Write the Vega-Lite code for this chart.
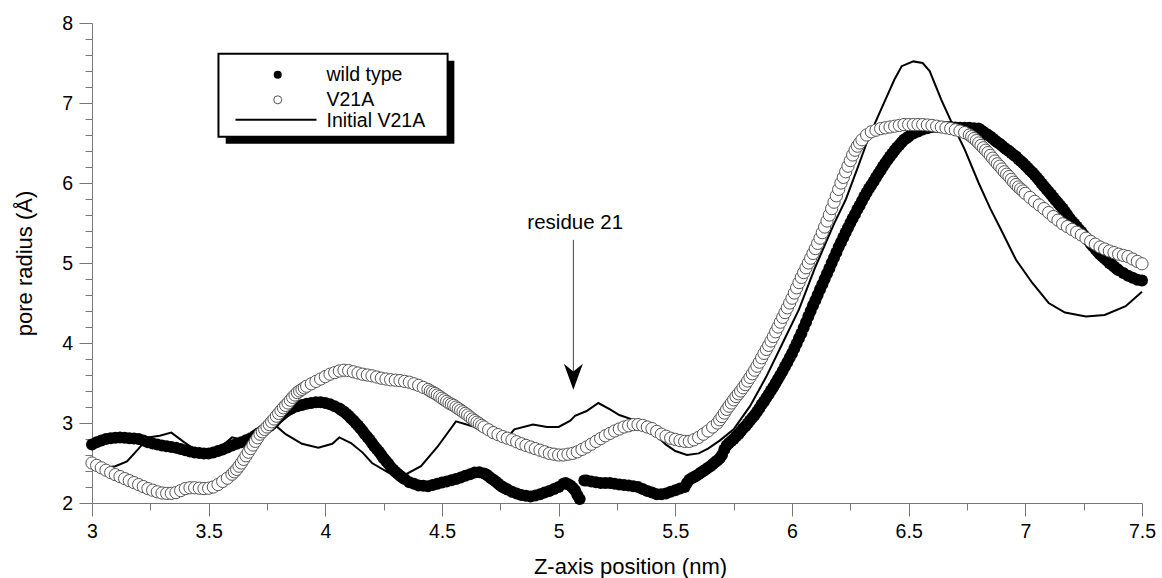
{
  "$schema": "https://vega.github.io/schema/vega-lite/v6.json",
  "width": 1050,
  "height": 480,
  "autosize": {"type": "none"},
  "padding": {"left": 92, "top": 23, "right": 20, "bottom": 75},
  "background": "white",
  "config": {
    "view": {"stroke": null},
    "font": "Liberation Sans",
    "axis": {
      "grid": false,
      "domainColor": "#777777",
      "tickColor": "#777777",
      "labelColor": "black",
      "labelFont": "Liberation Sans",
      "labelFontSize": 19.5,
      "titleFont": "Liberation Sans",
      "titleFontSize": 22,
      "titleFontWeight": "normal",
      "titleColor": "black"
    }
  },
  "datasets": {
    "initial": [
      {"z":3.00,"r":2.45},{"z":3.05,"r":2.44},{"z":3.10,"r":2.46},{"z":3.15,"r":2.52},{"z":3.20,"r":2.68},
      {"z":3.24,"r":2.82},{"z":3.29,"r":2.84},{"z":3.34,"r":2.88},{"z":3.39,"r":2.77},{"z":3.43,"r":2.69},
      {"z":3.47,"r":2.64},{"z":3.52,"r":2.64},{"z":3.56,"r":2.72},{"z":3.60,"r":2.82},{"z":3.63,"r":2.80},
      {"z":3.68,"r":2.84},{"z":3.74,"r":2.92},{"z":3.79,"r":2.96},{"z":3.83,"r":2.86},{"z":3.90,"r":2.74},
      {"z":3.97,"r":2.69},{"z":4.03,"r":2.74},{"z":4.06,"r":2.82},{"z":4.11,"r":2.75},{"z":4.16,"r":2.63},
      {"z":4.20,"r":2.50},{"z":4.27,"r":2.38},{"z":4.34,"r":2.35},{"z":4.41,"r":2.46},{"z":4.48,"r":2.70},
      {"z":4.56,"r":3.02},{"z":4.63,"r":2.96},{"z":4.70,"r":2.87},{"z":4.79,"r":2.85},{"z":4.81,"r":2.92},
      {"z":4.89,"r":2.98},{"z":4.95,"r":2.95},{"z":5.00,"r":2.95},{"z":5.05,"r":3.03},{"z":5.07,"r":3.09},
      {"z":5.12,"r":3.15},{"z":5.17,"r":3.25},{"z":5.22,"r":3.17},{"z":5.26,"r":3.10},{"z":5.32,"r":3.04},
      {"z":5.39,"r":2.92},{"z":5.46,"r":2.73},{"z":5.50,"r":2.65},{"z":5.55,"r":2.60},{"z":5.60,"r":2.62},
      {"z":5.64,"r":2.68},{"z":5.69,"r":2.78},{"z":5.75,"r":2.92},{"z":5.82,"r":3.21},{"z":5.89,"r":3.58},
      {"z":5.96,"r":4.00},{"z":6.03,"r":4.42},{"z":6.10,"r":4.95},{"z":6.14,"r":5.22},{"z":6.18,"r":5.49},
      {"z":6.23,"r":5.79},{"z":6.28,"r":6.18},{"z":6.32,"r":6.50},{"z":6.35,"r":6.71},{"z":6.40,"r":7.04},
      {"z":6.44,"r":7.30},{"z":6.47,"r":7.46},{"z":6.52,"r":7.52},{"z":6.56,"r":7.50},{"z":6.59,"r":7.40},
      {"z":6.64,"r":7.04},{"z":6.69,"r":6.72},{"z":6.74,"r":6.42},{"z":6.80,"r":6.00},{"z":6.85,"r":5.68},
      {"z":6.89,"r":5.45},{"z":6.96,"r":5.04},{"z":7.03,"r":4.75},{"z":7.10,"r":4.50},{"z":7.17,"r":4.38},
      {"z":7.26,"r":4.33},{"z":7.34,"r":4.35},{"z":7.43,"r":4.46},{"z":7.50,"r":4.64}
    ],
    "wt": [
      {"z":3.00,"r":2.73},{"z":3.02,"r":2.76},{"z":3.04,"r":2.78},{"z":3.06,"r":2.80},{"z":3.08,"r":2.81},
      {"z":3.10,"r":2.815},{"z":3.12,"r":2.82},{"z":3.14,"r":2.815},{"z":3.16,"r":2.81},{"z":3.18,"r":2.805},
      {"z":3.20,"r":2.80},{"z":3.22,"r":2.78},{"z":3.24,"r":2.76},{"z":3.26,"r":2.745},{"z":3.28,"r":2.73},
      {"z":3.30,"r":2.72},{"z":3.32,"r":2.71},{"z":3.34,"r":2.70},{"z":3.36,"r":2.69},{"z":3.38,"r":2.675},
      {"z":3.40,"r":2.66},{"z":3.42,"r":2.645},{"z":3.44,"r":2.63},{"z":3.46,"r":2.625},{"z":3.48,"r":2.62},
      {"z":3.50,"r":2.62},{"z":3.52,"r":2.63},{"z":3.54,"r":2.65},{"z":3.56,"r":2.67},{"z":3.58,"r":2.695},
      {"z":3.60,"r":2.72},{"z":3.62,"r":2.74},{"z":3.64,"r":2.76},{"z":3.66,"r":2.785},{"z":3.68,"r":2.81},
      {"z":3.70,"r":2.845},{"z":3.72,"r":2.88},{"z":3.74,"r":2.92},{"z":3.76,"r":2.96},{"z":3.78,"r":3.01},
      {"z":3.80,"r":3.07},{"z":3.82,"r":3.12},{"z":3.84,"r":3.16},{"z":3.86,"r":3.19},{"z":3.88,"r":3.21},
      {"z":3.90,"r":3.225},{"z":3.92,"r":3.24},{"z":3.94,"r":3.25},{"z":3.96,"r":3.26},{"z":3.98,"r":3.26},
      {"z":4.00,"r":3.25},{"z":4.02,"r":3.235},{"z":4.04,"r":3.21},{"z":4.06,"r":3.18},{"z":4.08,"r":3.14},
      {"z":4.10,"r":3.09},{"z":4.12,"r":3.03},{"z":4.14,"r":2.97},{"z":4.16,"r":2.90},{"z":4.18,"r":2.825},
      {"z":4.20,"r":2.75},{"z":4.22,"r":2.675},{"z":4.24,"r":2.60},{"z":4.26,"r":2.525},{"z":4.28,"r":2.45},
      {"z":4.30,"r":2.39},{"z":4.32,"r":2.34},{"z":4.34,"r":2.30},{"z":4.36,"r":2.26},{"z":4.38,"r":2.24},
      {"z":4.40,"r":2.22},{"z":4.42,"r":2.215},{"z":4.44,"r":2.21},{"z":4.46,"r":2.225},{"z":4.48,"r":2.24},
      {"z":4.50,"r":2.255},{"z":4.52,"r":2.27},{"z":4.54,"r":2.285},{"z":4.56,"r":2.30},{"z":4.58,"r":2.32},
      {"z":4.60,"r":2.34},{"z":4.62,"r":2.36},{"z":4.64,"r":2.38},{"z":4.66,"r":2.385},{"z":4.68,"r":2.37},
      {"z":4.70,"r":2.335},{"z":4.72,"r":2.29},{"z":4.74,"r":2.245},{"z":4.76,"r":2.20},{"z":4.78,"r":2.17},
      {"z":4.80,"r":2.14},{"z":4.82,"r":2.12},{"z":4.84,"r":2.10},{"z":4.86,"r":2.09},{"z":4.88,"r":2.08},
      {"z":4.90,"r":2.095},{"z":4.92,"r":2.11},{"z":4.94,"r":2.13},{"z":4.96,"r":2.15},{"z":4.98,"r":2.175},
      {"z":5.00,"r":2.20},{"z":5.02,"r":2.24},{"z":5.03,"r":2.25},{"z":5.04,"r":2.235},{"z":5.05,"r":2.22},
      {"z":5.06,"r":2.19},{"z":5.07,"r":2.16},{"z":5.08,"r":2.10},{"z":5.09,"r":2.05},{"z":5.11,"r":2.28},
      {"z":5.12,"r":2.28},{"z":5.14,"r":2.27},{"z":5.16,"r":2.26},{"z":5.18,"r":2.25},{"z":5.20,"r":2.25},
      {"z":5.22,"r":2.25},{"z":5.24,"r":2.24},{"z":5.26,"r":2.23},{"z":5.28,"r":2.225},{"z":5.30,"r":2.22},
      {"z":5.32,"r":2.21},{"z":5.34,"r":2.20},{"z":5.36,"r":2.175},{"z":5.38,"r":2.15},{"z":5.40,"r":2.13},
      {"z":5.42,"r":2.11},{"z":5.44,"r":2.11},{"z":5.46,"r":2.12},{"z":5.48,"r":2.14},{"z":5.50,"r":2.16},
      {"z":5.52,"r":2.18},{"z":5.54,"r":2.20},{"z":5.55,"r":2.25},{"z":5.56,"r":2.29},{"z":5.58,"r":2.325},
      {"z":5.60,"r":2.36},{"z":5.62,"r":2.40},{"z":5.64,"r":2.44},{"z":5.66,"r":2.485},{"z":5.68,"r":2.53},
      {"z":5.70,"r":2.60},{"z":5.71,"r":2.67},{"z":5.72,"r":2.72},{"z":5.74,"r":2.775},{"z":5.76,"r":2.83},
      {"z":5.78,"r":2.895},{"z":5.80,"r":2.96},{"z":5.82,"r":3.03},{"z":5.84,"r":3.10},{"z":5.86,"r":3.185},
      {"z":5.88,"r":3.27},{"z":5.90,"r":3.36},{"z":5.92,"r":3.45},{"z":5.94,"r":3.55},{"z":5.96,"r":3.65},
      {"z":5.98,"r":3.76},{"z":6.00,"r":3.87},{"z":6.02,"r":3.995},{"z":6.04,"r":4.12},{"z":6.06,"r":4.26},
      {"z":6.08,"r":4.40},{"z":6.10,"r":4.535},{"z":6.12,"r":4.67},{"z":6.14,"r":4.80},{"z":6.16,"r":4.93},
      {"z":6.18,"r":5.065},{"z":6.20,"r":5.20},{"z":6.22,"r":5.32},{"z":6.24,"r":5.44},{"z":6.26,"r":5.555},
      {"z":6.28,"r":5.67},{"z":6.30,"r":5.775},{"z":6.32,"r":5.88},{"z":6.34,"r":5.975},{"z":6.36,"r":6.07},
      {"z":6.38,"r":6.16},{"z":6.40,"r":6.25},{"z":6.42,"r":6.33},{"z":6.44,"r":6.41},{"z":6.46,"r":6.475},
      {"z":6.48,"r":6.54},{"z":6.50,"r":6.58},{"z":6.52,"r":6.62},{"z":6.54,"r":6.645},{"z":6.56,"r":6.67},
      {"z":6.58,"r":6.685},{"z":6.60,"r":6.70},{"z":6.62,"r":6.70},{"z":6.64,"r":6.70},{"z":6.66,"r":6.70},
      {"z":6.68,"r":6.70},{"z":6.70,"r":6.695},{"z":6.72,"r":6.69},{"z":6.74,"r":6.69},{"z":6.76,"r":6.69},
      {"z":6.78,"r":6.685},{"z":6.80,"r":6.68},{"z":6.82,"r":6.64},{"z":6.84,"r":6.60},{"z":6.86,"r":6.555},
      {"z":6.88,"r":6.51},{"z":6.90,"r":6.465},{"z":6.92,"r":6.42},{"z":6.94,"r":6.375},{"z":6.96,"r":6.33},
      {"z":6.98,"r":6.275},{"z":7.00,"r":6.22},{"z":7.02,"r":6.16},{"z":7.04,"r":6.10},{"z":7.06,"r":6.03},
      {"z":7.08,"r":5.96},{"z":7.10,"r":5.89},{"z":7.12,"r":5.82},{"z":7.14,"r":5.75},{"z":7.16,"r":5.68},
      {"z":7.18,"r":5.60},{"z":7.20,"r":5.52},{"z":7.22,"r":5.455},{"z":7.24,"r":5.39},{"z":7.26,"r":5.315},
      {"z":7.28,"r":5.24},{"z":7.30,"r":5.175},{"z":7.32,"r":5.11},{"z":7.34,"r":5.055},{"z":7.36,"r":5.00},
      {"z":7.38,"r":4.955},{"z":7.40,"r":4.91},{"z":7.42,"r":4.875},{"z":7.44,"r":4.84},{"z":7.46,"r":4.815},
      {"z":7.48,"r":4.79},{"z":7.50,"r":4.78},
      {"z":3.71,"r":2.862},{"z":3.73,"r":2.90},{"z":3.75,"r":2.94},{"z":3.77,"r":2.985},{"z":3.79,"r":3.04},
      {"z":3.81,"r":3.095},{"z":3.83,"r":3.14},{"z":3.85,"r":3.175},
      {"z":4.07,"r":3.16},{"z":4.09,"r":3.115},{"z":4.11,"r":3.06},{"z":4.13,"r":3.00},{"z":4.15,"r":2.935},
      {"z":4.17,"r":2.86},{"z":4.19,"r":2.79},{"z":4.21,"r":2.71},{"z":4.23,"r":2.64},{"z":4.25,"r":2.56},
      {"z":4.27,"r":2.49},{"z":4.29,"r":2.42},{"z":4.31,"r":2.365},{"z":4.33,"r":2.32},
      {"z":4.69,"r":2.355},{"z":4.71,"r":2.31},{"z":4.73,"r":2.27},{"z":4.75,"r":2.22},{"z":4.77,"r":2.185},
      {"z":5.57,"r":2.31},{"z":5.59,"r":2.34},{"z":5.61,"r":2.38},{"z":5.63,"r":2.42},{"z":5.65,"r":2.46},
      {"z":5.67,"r":2.51},{"z":5.69,"r":2.56},{"z":5.73,"r":2.75},{"z":5.75,"r":2.80},{"z":5.77,"r":2.86},
      {"z":5.79,"r":2.93},{"z":5.81,"r":2.995},{"z":5.83,"r":3.065},{"z":5.85,"r":3.14},{"z":5.87,"r":3.23},
      {"z":5.89,"r":3.315},{"z":5.91,"r":3.405},{"z":5.93,"r":3.50},{"z":5.95,"r":3.60},{"z":5.97,"r":3.705},
      {"z":5.99,"r":3.815},{"z":6.01,"r":3.93},{"z":6.03,"r":4.06},{"z":6.05,"r":4.19},{"z":6.07,"r":4.33},
      {"z":6.09,"r":4.47},{"z":6.11,"r":4.60},{"z":6.13,"r":4.735},{"z":6.15,"r":4.865},{"z":6.17,"r":5.00},
      {"z":6.19,"r":5.13},{"z":6.21,"r":5.26},{"z":6.23,"r":5.38},{"z":6.25,"r":5.50},{"z":6.27,"r":5.61},
      {"z":6.29,"r":5.72},{"z":6.31,"r":5.83},{"z":6.33,"r":5.93},{"z":6.35,"r":6.02},{"z":6.37,"r":6.115},
      {"z":6.39,"r":6.205},{"z":6.41,"r":6.29},{"z":6.43,"r":6.37},{"z":6.45,"r":6.445},{"z":6.47,"r":6.51},
      {"z":6.49,"r":6.56},
      {"z":6.81,"r":6.66},{"z":6.83,"r":6.62},{"z":6.85,"r":6.58},{"z":6.87,"r":6.53},{"z":6.89,"r":6.49},
      {"z":6.91,"r":6.44},{"z":6.93,"r":6.40},{"z":6.95,"r":6.35},{"z":6.97,"r":6.30},{"z":6.99,"r":6.25},
      {"z":7.01,"r":6.19},{"z":7.03,"r":6.13},{"z":7.05,"r":6.065},{"z":7.07,"r":5.995},{"z":7.09,"r":5.925},
      {"z":7.11,"r":5.855},{"z":7.13,"r":5.785},{"z":7.15,"r":5.715},{"z":7.17,"r":5.64},{"z":7.19,"r":5.56},
      {"z":7.21,"r":5.49},{"z":7.23,"r":5.42},{"z":7.25,"r":5.35},{"z":7.27,"r":5.28},{"z":7.29,"r":5.21},
      {"z":7.31,"r":5.14},{"z":7.33,"r":5.08},{"z":7.35,"r":5.03},{"z":7.37,"r":4.98},{"z":7.39,"r":4.93}
    ],
    "v21a": [
      {"z":3.00,"r":2.50},{"z":3.02,"r":2.47},{"z":3.04,"r":2.44},{"z":3.06,"r":2.41},{"z":3.08,"r":2.38},
      {"z":3.10,"r":2.355},{"z":3.12,"r":2.33},{"z":3.14,"r":2.305},{"z":3.16,"r":2.28},{"z":3.18,"r":2.255},
      {"z":3.20,"r":2.23},{"z":3.22,"r":2.205},{"z":3.24,"r":2.18},{"z":3.26,"r":2.16},{"z":3.28,"r":2.14},
      {"z":3.30,"r":2.125},{"z":3.32,"r":2.12},{"z":3.34,"r":2.12},{"z":3.36,"r":2.13},{"z":3.38,"r":2.155},
      {"z":3.40,"r":2.18},{"z":3.42,"r":2.19},{"z":3.44,"r":2.19},{"z":3.46,"r":2.185},{"z":3.48,"r":2.18},
      {"z":3.50,"r":2.185},{"z":3.52,"r":2.20},{"z":3.54,"r":2.23},{"z":3.56,"r":2.27},{"z":3.58,"r":2.31},
      {"z":3.60,"r":2.36},{"z":3.62,"r":2.42},{"z":3.64,"r":2.50},{"z":3.66,"r":2.59},{"z":3.68,"r":2.68},
      {"z":3.70,"r":2.77},{"z":3.72,"r":2.86},{"z":3.74,"r":2.92},{"z":3.76,"r":2.98},{"z":3.78,"r":3.05},
      {"z":3.80,"r":3.12},{"z":3.82,"r":3.19},{"z":3.84,"r":3.25},{"z":3.86,"r":3.32},{"z":3.88,"r":3.38},
      {"z":3.90,"r":3.42},{"z":3.92,"r":3.46},{"z":3.94,"r":3.49},{"z":3.96,"r":3.52},{"z":3.98,"r":3.55},
      {"z":4.00,"r":3.58},{"z":4.02,"r":3.61},{"z":4.04,"r":3.63},{"z":4.06,"r":3.65},{"z":4.08,"r":3.66},
      {"z":4.10,"r":3.655},{"z":4.12,"r":3.64},{"z":4.14,"r":3.625},{"z":4.16,"r":3.61},{"z":4.18,"r":3.60},
      {"z":4.20,"r":3.59},{"z":4.22,"r":3.575},{"z":4.24,"r":3.56},{"z":4.26,"r":3.55},{"z":4.28,"r":3.54},
      {"z":4.30,"r":3.535},{"z":4.32,"r":3.53},{"z":4.34,"r":3.52},{"z":4.36,"r":3.51},{"z":4.38,"r":3.49},
      {"z":4.40,"r":3.47},{"z":4.42,"r":3.445},{"z":4.44,"r":3.42},{"z":4.46,"r":3.385},{"z":4.48,"r":3.35},
      {"z":4.50,"r":3.31},{"z":4.52,"r":3.27},{"z":4.54,"r":3.235},{"z":4.56,"r":3.20},{"z":4.58,"r":3.16},
      {"z":4.60,"r":3.12},{"z":4.62,"r":3.075},{"z":4.64,"r":3.03},{"z":4.66,"r":2.99},{"z":4.68,"r":2.95},
      {"z":4.70,"r":2.915},{"z":4.72,"r":2.88},{"z":4.74,"r":2.855},{"z":4.76,"r":2.83},{"z":4.78,"r":2.81},
      {"z":4.80,"r":2.79},{"z":4.82,"r":2.765},{"z":4.84,"r":2.74},{"z":4.86,"r":2.72},{"z":4.88,"r":2.70},
      {"z":4.90,"r":2.68},{"z":4.92,"r":2.66},{"z":4.94,"r":2.64},{"z":4.96,"r":2.62},{"z":4.98,"r":2.61},
      {"z":5.00,"r":2.60},{"z":5.02,"r":2.60},{"z":5.04,"r":2.61},{"z":5.06,"r":2.62},{"z":5.08,"r":2.64},
      {"z":5.10,"r":2.67},{"z":5.12,"r":2.70},{"z":5.14,"r":2.735},{"z":5.16,"r":2.77},{"z":5.18,"r":2.805},
      {"z":5.20,"r":2.84},{"z":5.22,"r":2.87},{"z":5.24,"r":2.90},{"z":5.26,"r":2.925},{"z":5.28,"r":2.95},
      {"z":5.30,"r":2.965},{"z":5.32,"r":2.98},{"z":5.34,"r":2.98},{"z":5.36,"r":2.97},{"z":5.38,"r":2.95},
      {"z":5.40,"r":2.93},{"z":5.42,"r":2.895},{"z":5.44,"r":2.86},{"z":5.46,"r":2.835},{"z":5.48,"r":2.81},
      {"z":5.50,"r":2.795},{"z":5.52,"r":2.78},{"z":5.54,"r":2.77},{"z":5.56,"r":2.77},{"z":5.58,"r":2.79},
      {"z":5.60,"r":2.82},{"z":5.62,"r":2.86},{"z":5.64,"r":2.90},{"z":5.66,"r":2.95},{"z":5.68,"r":3.00},
      {"z":5.70,"r":3.08},{"z":5.72,"r":3.17},{"z":5.74,"r":3.25},{"z":5.76,"r":3.33},{"z":5.78,"r":3.40},
      {"z":5.80,"r":3.48},{"z":5.82,"r":3.57},{"z":5.84,"r":3.66},{"z":5.86,"r":3.76},{"z":5.88,"r":3.87},
      {"z":5.90,"r":3.97},{"z":5.92,"r":4.08},{"z":5.94,"r":4.20},{"z":5.96,"r":4.32},{"z":5.98,"r":4.44},
      {"z":6.00,"r":4.56},{"z":6.02,"r":4.69},{"z":6.04,"r":4.82},{"z":6.06,"r":4.94},{"z":6.08,"r":5.06},
      {"z":6.10,"r":5.18},{"z":6.12,"r":5.31},{"z":6.14,"r":5.45},{"z":6.16,"r":5.60},{"z":6.18,"r":5.76},
      {"z":6.20,"r":5.92},{"z":6.22,"r":6.07},{"z":6.24,"r":6.21},{"z":6.26,"r":6.35},{"z":6.28,"r":6.46},
      {"z":6.30,"r":6.54},{"z":6.32,"r":6.60},{"z":6.34,"r":6.64},{"z":6.36,"r":6.66},{"z":6.38,"r":6.68},
      {"z":6.40,"r":6.69},{"z":6.42,"r":6.70},{"z":6.44,"r":6.71},{"z":6.46,"r":6.72},{"z":6.48,"r":6.73},
      {"z":6.50,"r":6.73},{"z":6.52,"r":6.73},{"z":6.54,"r":6.73},{"z":6.56,"r":6.73},{"z":6.58,"r":6.725},
      {"z":6.60,"r":6.72},{"z":6.62,"r":6.71},{"z":6.64,"r":6.70},{"z":6.66,"r":6.69},{"z":6.68,"r":6.68},
      {"z":6.70,"r":6.665},{"z":6.72,"r":6.65},{"z":6.74,"r":6.63},{"z":6.76,"r":6.60},{"z":6.78,"r":6.555},
      {"z":6.80,"r":6.50},{"z":6.82,"r":6.44},{"z":6.84,"r":6.38},{"z":6.86,"r":6.31},{"z":6.88,"r":6.24},
      {"z":6.90,"r":6.175},{"z":6.92,"r":6.11},{"z":6.94,"r":6.045},{"z":6.96,"r":5.98},{"z":6.98,"r":5.925},
      {"z":7.00,"r":5.87},{"z":7.02,"r":5.82},{"z":7.04,"r":5.77},{"z":7.06,"r":5.725},{"z":7.08,"r":5.68},
      {"z":7.10,"r":5.63},{"z":7.12,"r":5.58},{"z":7.14,"r":5.535},{"z":7.16,"r":5.49},{"z":7.18,"r":5.455},
      {"z":7.20,"r":5.42},{"z":7.22,"r":5.385},{"z":7.24,"r":5.35},{"z":7.26,"r":5.31},{"z":7.28,"r":5.27},
      {"z":7.30,"r":5.235},{"z":7.32,"r":5.20},{"z":7.34,"r":5.175},{"z":7.36,"r":5.15},{"z":7.38,"r":5.13},
      {"z":7.40,"r":5.11},{"z":7.42,"r":5.095},{"z":7.44,"r":5.08},{"z":7.46,"r":5.05},{"z":7.48,"r":5.02},
      {"z":7.50,"r":4.99},
      {"z":3.61,"r":2.39},{"z":3.63,"r":2.46},{"z":3.65,"r":2.545},{"z":3.67,"r":2.635},{"z":3.69,"r":2.725},
      {"z":3.71,"r":2.815},{"z":3.73,"r":2.89},{"z":3.75,"r":2.95},{"z":3.77,"r":3.015},{"z":3.79,"r":3.085},
      {"z":3.81,"r":3.155},{"z":3.83,"r":3.22},{"z":3.85,"r":3.285},{"z":3.87,"r":3.35},{"z":3.89,"r":3.40},
      {"z":3.91,"r":3.44},
      {"z":4.45,"r":3.40},{"z":4.47,"r":3.37},{"z":4.49,"r":3.33},{"z":4.51,"r":3.29},{"z":4.53,"r":3.25},
      {"z":4.55,"r":3.22},{"z":4.57,"r":3.18},{"z":4.59,"r":3.14},{"z":4.61,"r":3.10},{"z":4.63,"r":3.05},
      {"z":4.65,"r":3.01},{"z":4.67,"r":2.97},
      {"z":5.69,"r":3.04},{"z":5.71,"r":3.125},{"z":5.73,"r":3.21},{"z":5.75,"r":3.29},{"z":5.77,"r":3.365},
      {"z":5.79,"r":3.44},{"z":5.81,"r":3.525},{"z":5.83,"r":3.615},{"z":5.85,"r":3.71},{"z":5.87,"r":3.815},
      {"z":5.89,"r":3.92},{"z":5.91,"r":4.025},{"z":5.93,"r":4.14},{"z":5.95,"r":4.26},{"z":5.97,"r":4.38},
      {"z":5.99,"r":4.50},{"z":6.01,"r":4.625},{"z":6.03,"r":4.755},{"z":6.05,"r":4.88},{"z":6.07,"r":5.00},
      {"z":6.09,"r":5.12},{"z":6.11,"r":5.245},{"z":6.13,"r":5.38},{"z":6.15,"r":5.525},{"z":6.17,"r":5.68},
      {"z":6.19,"r":5.84},{"z":6.21,"r":6.00},{"z":6.23,"r":6.14},{"z":6.25,"r":6.28},{"z":6.27,"r":6.41},
      {"z":6.29,"r":6.50},
      {"z":6.77,"r":6.58},{"z":6.79,"r":6.53},{"z":6.81,"r":6.47},{"z":6.83,"r":6.41},{"z":6.85,"r":6.345},
      {"z":6.87,"r":6.275},{"z":6.89,"r":6.21},{"z":6.91,"r":6.14},{"z":6.93,"r":6.08},{"z":6.95,"r":6.01},
      {"z":6.97,"r":5.95},{"z":6.99,"r":5.90}
    ]
  },
  "resolve": {"axis": {"x": "independent", "y": "independent"}},
  "layer": [
    {
      "data": {"name": "initial"},
      "mark": {"type": "line", "color": "black", "strokeWidth": 2},
      "encoding": {
        "x": {"field": "z", "type": "quantitative",
              "scale": {"domain": [3, 7.5], "nice": false, "zero": false},
              "axis": {"orient": "bottom", "values": [3.25, 3.75, 4.25, 4.75, 5.25, 5.75, 6.25, 6.75, 7.25],
                       "labels": false, "domain": false, "tickSize": 7, "title": null}},
        "y": {"field": "r", "type": "quantitative",
              "scale": {"domain": [2, 8], "nice": false, "zero": false},
              "axis": {"orient": "left", "values": [2.2, 2.4, 2.6, 2.8, 3.2, 3.4, 3.6, 3.8, 4.2, 4.4, 4.6, 4.8, 5.2, 5.4, 5.6, 5.8, 6.2, 6.4, 6.6, 6.8, 7.2, 7.4, 7.6, 7.8],
                       "labels": false, "domain": false, "tickSize": 7, "title": null}}
      }
    },
    {
      "data": {"name": "wt"},
      "mark": {"type": "point", "shape": "circle", "filled": true, "color": "black", "opacity": 1, "size": 144},
      "encoding": {
        "x": {"field": "z", "type": "quantitative",
              "axis": {"orient": "bottom", "values": [3, 3.5, 4, 4.5, 5, 5.5, 6, 6.5, 7, 7.5], "format": "~g",
                       "tickSize": 13, "labelPadding": 6, "labelFlush": false, "labelOverlap": false,
                       "title": "Z-axis position (nm)", "titleX": 538, "titleY": 70, "titleBaseline": "alphabetic"}},
        "y": {"field": "r", "type": "quantitative",
              "axis": {"orient": "left", "values": [2, 3, 4, 5, 6, 7, 8], "format": "~g",
                       "tickSize": 13, "labelPadding": 6.5, "labelOverlap": false,
                       "title": "pore radius (Å)", "titleX": -56, "titleY": 240}},
        "order": {"field": "z", "type": "quantitative"}
      }
    },
    {
      "data": {"name": "v21a"},
      "mark": {"type": "point", "shape": "circle", "filled": true, "fill": "white", "stroke": "#555555", "strokeWidth": 1, "opacity": 1, "size": 150},
      "encoding": {
        "x": {"field": "z", "type": "quantitative", "axis": null},
        "y": {"field": "r", "type": "quantitative", "axis": null},
        "order": {"field": "z", "type": "quantitative"}
      }
    },
    {
      "data": {"values": [{}]},
      "mark": {"type": "rect", "color": "black"},
      "encoding": {
        "x": {"datum": 3.573, "type": "quantitative", "axis": null},
        "x2": {"datum": 4.553},
        "y": {"datum": 7.529, "type": "quantitative", "axis": null},
        "y2": {"datum": 6.492}
      }
    },
    {
      "data": {"values": [{}]},
      "mark": {"type": "rect", "fill": "white", "stroke": "black", "strokeWidth": 2},
      "encoding": {
        "x": {"datum": 3.542, "type": "quantitative", "axis": null},
        "x2": {"datum": 4.524},
        "y": {"datum": 7.616, "type": "quantitative", "axis": null},
        "y2": {"datum": 6.579}
      }
    },
    {
      "data": {"values": [{}]},
      "mark": {"type": "point", "shape": "circle", "filled": true, "color": "black", "opacity": 1, "size": 64},
      "encoding": {
        "x": {"datum": 3.796, "type": "quantitative", "axis": null},
        "y": {"datum": 7.354, "type": "quantitative", "axis": null}
      }
    },
    {
      "data": {"values": [{}]},
      "mark": {"type": "point", "shape": "circle", "filled": true, "fill": "white", "stroke": "#555555", "strokeWidth": 1, "opacity": 1, "size": 64},
      "encoding": {
        "x": {"datum": 3.796, "type": "quantitative", "axis": null},
        "y": {"datum": 7.04, "type": "quantitative", "axis": null}
      }
    },
    {
      "data": {"values": [{}]},
      "mark": {"type": "rule", "color": "black", "strokeWidth": 2},
      "encoding": {
        "x": {"datum": 3.615, "type": "quantitative", "axis": null},
        "x2": {"datum": 3.962},
        "y": {"datum": 6.79, "type": "quantitative", "axis": null}
      }
    },
    {
      "data": {"values": [{}]},
      "mark": {"type": "text", "text": "wild type", "align": "left", "baseline": "alphabetic", "fontSize": 19.5, "color": "black"},
      "encoding": {
        "x": {"datum": 4.005, "type": "quantitative", "axis": null},
        "y": {"datum": 7.28, "type": "quantitative", "axis": null}
      }
    },
    {
      "data": {"values": [{}]},
      "mark": {"type": "text", "text": "V21A", "align": "left", "baseline": "alphabetic", "fontSize": 19.5, "color": "black"},
      "encoding": {
        "x": {"datum": 4.005, "type": "quantitative", "axis": null},
        "y": {"datum": 6.966, "type": "quantitative", "axis": null}
      }
    },
    {
      "data": {"values": [{}]},
      "mark": {"type": "text", "text": "Initial V21A", "align": "left", "baseline": "alphabetic", "fontSize": 19.5, "color": "black"},
      "encoding": {
        "x": {"datum": 4.005, "type": "quantitative", "axis": null},
        "y": {"datum": 6.70, "type": "quantitative", "axis": null}
      }
    },
    {
      "data": {"values": [{}]},
      "mark": {"type": "rule", "color": "#444444", "strokeWidth": 1},
      "encoding": {
        "x": {"datum": 5.063, "type": "quantitative", "axis": null},
        "y": {"datum": 5.29, "type": "quantitative", "axis": null},
        "y2": {"datum": 3.56}
      }
    },
    {
      "data": {"values": [{}]},
      "mark": {"type": "point", "shape": "M0,1L-0.73,-1L0,-0.4L0.73,-1Z", "filled": true, "color": "black", "opacity": 1, "size": 676, "strokeWidth": 0},
      "encoding": {
        "x": {"datum": 5.063, "type": "quantitative", "axis": null},
        "y": {"datum": 3.579, "type": "quantitative", "axis": null}
      }
    },
    {
      "data": {"values": [{}]},
      "mark": {"type": "text", "text": "residue 21", "align": "center", "baseline": "alphabetic", "fontSize": 20.5, "color": "black"},
      "encoding": {
        "x": {"datum": 5.071, "type": "quantitative", "axis": null},
        "y": {"datum": 5.425, "type": "quantitative", "axis": null}
      }
    }
  ]
}
